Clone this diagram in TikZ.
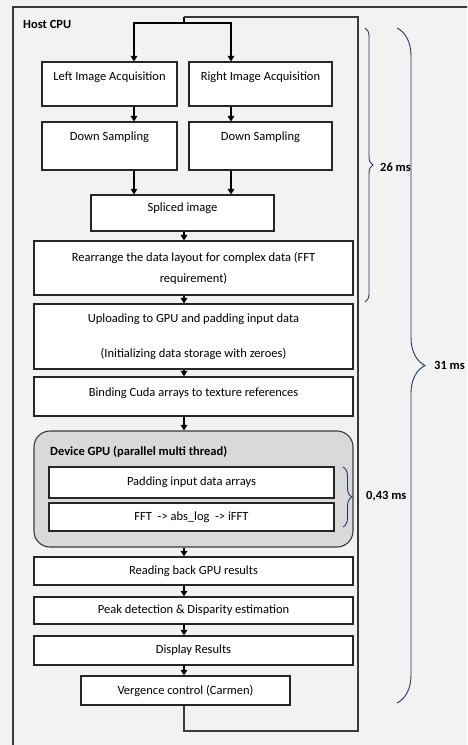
\documentclass[tikz,border=0pt]{standalone}
\usepackage{fontspec}
\setmainfont{Carlito}
\usetikzlibrary{positioning,arrows.meta,decorations.pathreplacing}
\definecolor{bgcol}{HTML}{F2F2F2}
\definecolor{gpucol}{HTML}{D9D9D9}
\definecolor{framecol}{HTML}{3A3A3A}
\definecolor{bracecol}{HTML}{1F3864}
\begin{document}
\begin{tikzpicture}[x=1pt, y=-1pt, font=\fontsize{12.5}{15}\selectfont, >={Triangle[width=6.5pt,length=5.5pt]},
  proc/.style={draw=black!85, line width=1.1pt, fill=white, align=center, inner sep=1pt},
  flow/.style={->, line width=1.7pt},
  tbrace/.style={draw=bracecol, line width=0.9pt, decorate, decoration={brace, amplitude=#1}},
  tlbl/.style={font=\fontsize{12.5}{15}\selectfont\bfseries, inner sep=0pt}]
\useasboundingbox (0,0) rectangle (467,745);
\clip (0,0) rectangle (467,745);
\fill[bgcol] (0,0) rectangle (467,745);
% host frame (runs off the page)
\draw[framecol, line width=1.2pt] (13,760) -- (13,7) -- (480,7);
\node[tlbl, anchor=west] (host) at (23,24) {Host CPU};
% coordinates of the flow lines
\coordinate (top) at (184,17);
\coordinate (split) at (184,23);
\coordinate (sl) at (134,23);
\coordinate (sr) at (231,23);
\coordinate (loopbr) at (358,731);
% stereo input
\node[proc, minimum width=135pt, minimum height=44pt] (lia) at (109.5,84) {Left Image Acquisition\\[-3pt]\strut};
\node[proc, minimum width=143pt, minimum height=44pt] (ria) at (260.5,84) {Right Image Acquisition\\[-3pt]\strut};
\node[proc, minimum width=135pt, minimum height=48pt] (dsl) at (109.5,146) {Down Sampling\\[1pt]\strut};
\node[proc, minimum width=143pt, minimum height=48pt] (dsr) at (260.5,146) {Down Sampling\\[1pt]\strut};
\node[proc, minimum width=183pt, minimum height=36pt] (spl) at (182.5,213) {Spliced image\\[-7pt]\strut};
% host side preparation
\node[proc, minimum width=319pt, minimum height=54pt] (rear) at (193.5,268) {Rearrange the data layout for complex data (FFT\\[6pt]requirement)};
\node[proc, minimum width=319pt, minimum height=65pt] (upl) at (193.5,336.5) {Uploading to GPU and padding input data\\[20pt](Initializing data storage with zeroes)};
\node[proc, minimum width=319pt, minimum height=39pt] (bind) at (193.5,396.5) {Binding Cuda arrays to texture references\\[-10pt]\strut};
% device part
\node[draw=framecol, line width=1.1pt, fill=gpucol, rounded corners=16pt, minimum width=319pt, minimum height=116pt] (gpu) at (193.5,489) {};
\node[tlbl, anchor=west] (gputitle) at (50,452) {Device GPU (parallel multi thread)};
\node[proc, minimum width=285pt, minimum height=31pt] (pad) at (191.5,482.5) {Padding input data arrays};
\node[proc, minimum width=285pt, minimum height=28pt] (fft) at (191.5,517) {FFT~~-> abs\_log~~-> iFFT};
% results
\node[proc, minimum width=319pt, minimum height=28pt] (read) at (193.5,571) {Reading back GPU results};
\node[proc, minimum width=319pt, minimum height=27pt] (peak) at (193.5,610.5) {Peak detection \& Disparity estimation};
\node[proc, minimum width=319pt, minimum height=29pt] (disp) at (193.5,650.5) {Display Results};
\node[proc, minimum width=209pt, minimum height=29pt] (verg) at (185.5,690.5) {Vergence control (Carmen)};
% arrows
\draw[line width=1.7pt] (top) -- (split);
\draw[flow] (split) -| (lia.north -| sl);
\draw[flow] (split) -| (ria.north -| sr);
\draw[flow] (lia.south -| sl) -- (dsl.north -| sl);
\draw[flow] (ria.south -| sr) -- (dsr.north -| sr);
\draw[flow] (dsl.south -| sl) -- (spl.north -| sl);
\draw[flow] (dsr.south -| sr) -- (spl.north -| sr);
\foreach \a/\b in {spl/rear,rear/upl,upl/bind,bind/gpu,gpu/read,read/peak,peak/disp,disp/verg}
  \draw[flow] (\a.south -| top) -- (\b.north -| top);
% feedback loop
\draw[framecol, line width=1.2pt] (verg.south -| top) |- (loopbr) |- (top);
% timings
\coordinate (b26a) at (365,28);
\coordinate (b26b) at (365,302);
\coordinate (b31a) at (397,28);
\coordinate (b31b) at (397,703);
\coordinate (b043a) at (343,467);
\coordinate (b043b) at (343,527);
\draw[tbrace=8pt] (b26a) -- (b26b);
\draw[tbrace=28pt] (b31a) -- (b31b);
\draw[tbrace=9pt] (b043a) -- (b043b);
\node[tlbl, anchor=west] (t26) at (380,167) {26 ms};
\node[tlbl, anchor=west] (t31) at (434,365) {31 ms};
\node[tlbl, anchor=west] (t043) at (366,496) {0,43 ms};
\end{tikzpicture}
\end{document}
